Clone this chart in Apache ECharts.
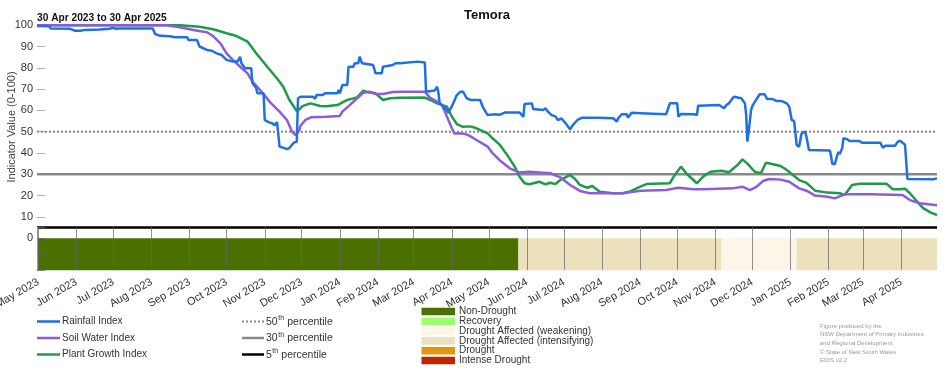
<!DOCTYPE html>
<html><head><meta charset="utf-8">
<script src="https://cdn.jsdelivr.net/npm/echarts@6/dist/echarts.min.js"></script>
<style>html,body{margin:0;padding:0;background:#fff}#c{width:952px;height:370px}</style>
</head><body><div id="c"></div>
<script>
const START = '2023-04-30', END = '2025-04-30';
const chartTitle = 'Temora';
const periodText = '30 Apr 2023 to 30 Apr 2025';
const yAxisTitle = 'Indicator Value (0-100)';
const monthNames = ['Jan','Feb','Mar','Apr','May','Jun','Jul','Aug','Sep','Oct','Nov','Dec'];

const rainfall = [
['2023-04-30',99.6],['2023-05-10',99.5],['2023-05-11',98.5],['2023-05-27',98.3],['2023-05-31',97.4],['2023-06-04',97.4],
['2023-06-08',97.8],['2023-06-20',98.0],['2023-06-28',98.3],['2023-07-01',98.8],['2023-07-03',98.3],['2023-07-06',98.5],
['2023-08-02',98.5],['2023-08-04',95.8],['2023-08-08',95.0],['2023-08-16',94.8],['2023-08-20',94.3],['2023-08-30',94.3],
['2023-08-31',93.0],['2023-09-07',93.0],['2023-09-09',90.0],['2023-09-15',88.4],['2023-09-19',88.0],['2023-09-23',86.8],
['2023-09-27',86.0],['2023-10-01',83.7],['2023-10-06',82.9],['2023-10-10',83.0],['2023-10-12',85.2],['2023-10-13',82.1],
['2023-10-16',79.8],['2023-10-21',79.8],['2023-10-22',72.7],['2023-10-25',70.5],['2023-10-26',68.0],['2023-10-31',68.0],
['2023-11-01',55.5],['2023-11-04',54.5],['2023-11-07',54.0],['2023-11-09',53.0],['2023-11-11',54.5],['2023-11-12',54.0],
['2023-11-13',43.0],['2023-11-16',42.5],['2023-11-19',41.8],['2023-11-21',42.3],['2023-11-23',43.8],['2023-11-25',45.0],
['2023-11-27',45.3],['2023-11-28',65.7],['2023-11-30',66.4],['2023-12-10',66.4],['2023-12-12',65.5],['2023-12-13',67.2],
['2023-12-18',67.2],['2023-12-20',68.0],['2023-12-30',68.0],['2023-12-31',69.6],['2024-01-01',68.0],['2024-01-03',71.9],
['2024-01-07',71.9],['2024-01-08',80.5],['2024-01-12',80.5],['2024-01-13',82.1],['2024-01-16',82.1],['2024-01-17',85.2],
['2024-01-19',82.1],['2024-01-28',81.3],['2024-01-30',77.4],['2024-02-04',77.4],['2024-02-05',80.5],['2024-02-13',81.3],
['2024-02-15',82.1],['2024-02-19',82.1],['2024-02-20',82.9],['2024-03-04',82.9],['2024-03-10',82.5],['2024-03-11',68.8],
['2024-03-18',69.3],['2024-03-20',71.1],['2024-03-21',68.5],['2024-03-22',63.5],['2024-03-25',61.6],['2024-03-28',60.2],
['2024-03-29',58.8],['2024-04-01',62.0],['2024-04-05',67.2],['2024-04-08',68.8],['2024-04-10',68.8],['2024-04-13',65.7],
['2024-04-16',64.9],['2024-04-24',64.9],['2024-04-26',61.7],['2024-04-30',57.8],['2024-05-06',58.2],['2024-05-10',58.0],
['2024-05-14',59.0],['2024-05-26',59.0],['2024-05-29',57.0],['2024-05-30',63.0],['2024-06-05',63.3],['2024-06-06',60.7],
['2024-06-07',61.5],['2024-06-14',60.2],['2024-06-16',61.0],['2024-06-18',59.4],['2024-06-21',57.8],['2024-06-24',57.2],
['2024-06-26',55.5],['2024-06-29',56.2],['2024-07-02',54.2],['2024-07-04',52.7],['2024-07-06',51.1],['2024-07-08',53.0],
['2024-07-12',55.5],['2024-07-16',56.6],['2024-07-28',56.6],['2024-08-10',56.3],['2024-08-13',54.7],['2024-08-14',56.3],
['2024-08-17',58.2],['2024-08-21',58.2],['2024-08-22',56.6],['2024-08-25',58.9],['2024-09-06',58.6],['2024-09-22',58.2],
['2024-09-25',63.3],['2024-10-01',63.3],['2024-10-02',57.0],['2024-10-04',58.3],['2024-10-15',58.2],['2024-10-17',57.8],
['2024-10-18',62.2],['2024-11-04',62.5],['2024-11-05',63.3],['2024-11-08',61.0],['2024-11-10',62.5],['2024-11-12',63.3],
['2024-11-16',66.4],['2024-11-22',65.7],['2024-11-25',63.3],['2024-11-26',58.0],['2024-11-27',45.3],['2024-11-29',55.0],
['2024-11-30',60.2],['2024-12-01',62.0],['2024-12-04',64.9],['2024-12-07',67.6],['2024-12-11',67.6],['2024-12-13',65.4],
['2024-12-17',65.4],['2024-12-21',64.4],['2024-12-25',64.4],['2024-12-29',63.3],['2024-12-31',61.7],['2025-01-02',55.5],
['2025-01-04',55.0],['2025-01-06',43.8],['2025-01-08',43.0],['2025-01-10',49.2],['2025-01-13',50.0],['2025-01-14',47.5],
['2025-01-16',41.4],['2025-02-02',41.2],['2025-02-03',38.5],['2025-02-04',34.8],['2025-02-06',34.8],['2025-02-08',39.0],
['2025-02-09',40.5],['2025-02-10',39.5],['2025-02-12',42.2],['2025-02-13',46.9],['2025-02-16',46.5],['2025-02-18',45.6],
['2025-02-26',45.6],['2025-02-28',44.8],['2025-03-15',44.8],['2025-03-16',44.5],['2025-03-17',42.5],['2025-03-19',43.4],
['2025-03-27',43.4],['2025-03-29',45.2],['2025-03-31',45.8],['2025-04-02',44.8],['2025-04-04',44.0],['2025-04-06',27.8],
['2025-04-27',27.7],['2025-04-30',28.1]
];

const soilWater = [
['2023-04-30',100],['2023-08-13',100],['2023-08-24',99.0],['2023-09-04',97.7],['2023-09-15',96.7],['2023-09-20',94.9],
['2023-09-26',91.5],['2023-10-01',86.8],['2023-10-06',83.7],['2023-10-12',80.5],['2023-10-18',77.4],['2023-10-22',73.5],
['2023-10-28',69.6],['2023-11-01',67.0],['2023-11-05',64.0],['2023-11-13',59.4],['2023-11-19',55.5],['2023-11-23',50.2],
['2023-11-26',48.4],['2023-11-29',50.5],['2023-11-30',52.8],['2023-12-04',55.5],['2023-12-09',56.8],['2023-12-21',57.0],
['2024-01-01',57.4],['2024-01-03',59.4],['2024-01-09',62.5],['2024-01-15',65.7],['2024-01-20',68.3],['2024-01-25',68.8],
['2024-01-30',67.7],['2024-02-05',67.7],['2024-02-13',68.6],['2024-02-21',68.8],['2024-03-10',68.8],['2024-03-14',66.0],
['2024-03-20',64.1],['2024-03-24',62.5],['2024-03-28',57.0],['2024-04-01',51.6],['2024-04-03',49.2],['2024-04-09',49.2],
['2024-04-14',48.5],['2024-04-21',46.1],['2024-04-30',43.0],['2024-05-04',39.9],['2024-05-10',36.5],['2024-05-18',32.8],
['2024-05-26',30.8],['2024-06-03',31.2],['2024-06-11',30.9],['2024-06-20',30.5],['2024-06-28',28.6],['2024-07-06',25.0],
['2024-07-14',22.2],['2024-07-22',21.1],['2024-08-18',21.1],['2024-09-01',22.3],['2024-09-22',22.6],['2024-10-02',23.7],
['2024-10-14',23.0],['2024-10-22',23.0],['2024-11-15',23.4],['2024-11-23',24.2],['2024-11-29',22.6],['2024-12-04',24.0],
['2024-12-10',27.0],['2024-12-15',27.8],['2024-12-24',27.5],['2024-12-31',26.5],['2025-01-08',23.4],['2025-01-14',22.3],
['2025-01-21',20.0],['2025-01-31',19.5],['2025-02-06',18.7],['2025-02-14',20.6],['2025-03-07',20.6],['2025-04-02',20.3],
['2025-04-08',17.9],['2025-04-16',16.4],['2025-04-30',15.5]
];

const plantGrowth = [
['2023-04-30',100],['2023-08-24',100],['2023-09-09',99.3],['2023-09-20',98.1],['2023-10-01',96.2],['2023-10-09',94.9],
['2023-10-18',92.3],['2023-10-25',86.8],['2023-11-03',80.5],['2023-11-11',75.0],['2023-11-16',71.1],['2023-11-21',64.9],
['2023-11-27',59.7],['2023-11-30',61.0],['2023-12-02',62.1],['2023-12-08',63.3],['2023-12-16',62.1],['2023-12-21',62.0],
['2023-12-30',62.5],['2024-01-07',64.9],['2024-01-15',66.1],['2024-01-20',69.3],['2024-01-24',68.5],['2024-01-30',68.0],
['2024-02-05',64.9],['2024-02-11',65.7],['2024-02-19',65.9],['2024-03-10',66.0],['2024-03-14',65.0],['2024-03-20',63.3],
['2024-03-28',61.7],['2024-04-01',57.0],['2024-04-05',53.6],['2024-04-10',52.3],['2024-04-16',52.5],['2024-04-21',51.6],
['2024-04-30',49.2],['2024-05-04',46.9],['2024-05-10',43.8],['2024-05-16',39.0],['2024-05-22',33.6],['2024-05-26',28.9],
['2024-05-30',25.8],['2024-06-03',25.3],['2024-06-11',26.5],['2024-06-16',25.3],['2024-06-20',26.0],['2024-06-24',25.4],
['2024-06-28',27.3],['2024-07-06',29.7],['2024-07-10',27.8],['2024-07-14',25.0],['2024-07-20',23.7],['2024-07-24',24.5],
['2024-07-30',21.8],['2024-08-10',21.1],['2024-08-18',21.1],['2024-08-23',21.8],['2024-09-01',24.2],['2024-09-06',25.4],
['2024-09-25',25.8],['2024-09-29',29.7],['2024-10-04',33.6],['2024-10-09',30.0],['2024-10-17',25.8],['2024-10-22',28.9],
['2024-10-28',31.2],['2024-11-06',31.7],['2024-11-12',31.0],['2024-11-19',34.4],['2024-11-23',37.0],['2024-11-27',35.0],
['2024-12-03',31.2],['2024-12-08',30.5],['2024-12-12',35.4],['2024-12-17',34.8],['2024-12-24',33.9],['2024-12-29',32.0],
['2025-01-02',30.1],['2025-01-08',27.3],['2025-01-14',26.0],['2025-01-21',22.3],['2025-01-31',21.4],['2025-02-10',21.1],
['2025-02-14',20.3],['2025-02-20',25.0],['2025-02-26',25.6],['2025-03-20',25.6],['2025-03-25',23.0],['2025-03-31',23.0],
['2025-04-04',23.2],['2025-04-08',21.1],['2025-04-14',17.1],['2025-04-19',14.0],['2025-04-25',12.0],['2025-04-30',10.9]
];

const percentileValues = [50, 30, 5];
const percentileLabels = ['50', '30', '5'];
const percentileSuffix = ['th', 'th', 'th'];

const statusNames = ['Non-Drought','Recovery','Drought Affected (weakening)','Drought Affected (intensifying)','Drought','Intense Drought'];
const statusColors = ['#4a7000','#9dfb6e','#fdf5e8','#ede0bc','#e3960c','#bf2600'];
const statusPeriods = [
  ['2023-04-30','2024-05-25','Non-Drought'],
  ['2024-05-25','2024-11-06','Drought Affected (intensifying)'],
  ['2024-11-06','2025-01-06','Drought Affected (weakening)'],
  ['2025-01-06','2025-04-30','Drought Affected (intensifying)']
];

const indexNames = ['Rainfall Index','Soil Water Index','Plant Growth Index'];
const indexColors = ['#1f6fe5','#8b5cdc','#1f9b48'];
const credits = ['Figure produced by the','NSW Department of Primary Industries','and Regional Development','\u00a9 State of New South Wales','EDIS v2.2'];

const toTime = s => { const p = s.split('-'); return new Date(+p[0], +p[1]-1, +p[2]).getTime(); };
const FONT = 'Liberation Sans, Arial, sans-serif';

const chart = echarts.init(document.getElementById('c'), null, {renderer:'canvas'});

const graphic = [];
graphic.push({type:'text', x:487, y:15, style:{text:chartTitle, font:'bold 13px '+FONT, fill:'#111', align:'center', verticalAlign:'middle'}});
graphic.push({type:'text', x:37, y:18, style:{text:periodText, font:'bold 10.2px '+FONT, fill:'#111', align:'left', verticalAlign:'middle'}});
graphic.push({type:'text', x:12, y:127, rotation:Math.PI/2, style:{text:yAxisTitle, font:'11px '+FONT, fill:'#444', align:'center', verticalAlign:'middle'}});

const rowY = [321.5, 338, 354.5];
indexNames.forEach((n,i)=>{
  graphic.push({type:'line', shape:{x1:37,y1:rowY[i],x2:60,y2:rowY[i]}, style:{stroke:indexColors[i], lineWidth:2.5}});
  graphic.push({type:'text', x:62, y:rowY[i], style:{text:n, font:'10px '+FONT, fill:'#333', verticalAlign:'middle'}});
});
const pStyles = [{stroke:'#888', lineWidth:2, lineDash:[2,2]},{stroke:'#888', lineWidth:2.5},{stroke:'#000', lineWidth:2.5}];
percentileLabels.forEach((l,i)=>{
  graphic.push({type:'line', shape:{x1:242,y1:rowY[i],x2:264,y2:rowY[i]}, style:pStyles[i]});
  graphic.push({type:'text', x:266, y:rowY[i]+0.5, style:{text:l, font:'10.5px '+FONT, fill:'#333', verticalAlign:'middle'}});
  const w = l.length*5.85;
  graphic.push({type:'text', x:266+w+0.5, y:rowY[i]-3, style:{text:percentileSuffix[i], font:'7px '+FONT, fill:'#333', verticalAlign:'middle'}});
  graphic.push({type:'text', x:266+w+9.5, y:rowY[i]+0.5, style:{text:'percentile', font:'10.5px '+FONT, fill:'#333', verticalAlign:'middle'}});
});
statusNames.forEach((n,i)=>{
  const y = 311.5 + i*9.8;
  graphic.push({type:'rect', shape:{x:421.5,y:y-3.8,width:33.5,height:7.6}, style:{fill:statusColors[i]}});
  graphic.push({type:'text', x:459, y:y, style:{text:n, font:'10px '+FONT, fill:'#333', verticalAlign:'middle'}});
});
credits.forEach((c,i)=>{
  graphic.push({type:'text', x:820, y:326 + i*8.7, style:{text:c, font:'6px '+FONT, fill:'#999', verticalAlign:'middle'}});
});

const lineSeries = [rainfall, soilWater, plantGrowth].map((d,i)=>({
  type:'line', name:indexNames[i], xAxisIndex:0, yAxisIndex:0, data:d, showSymbol:false, symbol:'none',
  lineStyle:{color:indexColors[i], width:2.5}, z:5+ (2-i), animation:false
}));
const pctSeries = percentileValues.map((v,i)=>({
  type:'line', xAxisIndex:0, yAxisIndex:0, data:[[START,v],[END,v]], showSymbol:false, symbol:'none', silent:true,
  lineStyle:{color:pStyles[i].stroke, width:pStyles[i].lineWidth, type: i===0 ? [2,2] : 'solid'}, z:2, animation:false
}));
const bandSeries = {
  type:'custom', xAxisIndex:1, yAxisIndex:1, animation:false, z:1,
  data: statusPeriods.map(p=>[toTime(p[0]), toTime(p[1]), statusNames.indexOf(p[2])]),
  dimensions:['start','end','status'],
  encode:{x:[0,1]},
  renderItem:(params, api)=>{
    const a = api.coord([api.value(0), 0]);
    const b = api.coord([api.value(1), -15]);
    return {type:'rect', shape:{x:a[0], y:a[1], width:b[0]-a[0], height:b[1]-a[1]}, style:{fill:statusColors[api.value(2)]}};
  }
};

const option = {
  animation:false,
  textStyle:{fontFamily:FONT},
  grid:[
    {left:37, right:15, top:25.2, height:213, containLabel:false, outerBoundsMode:'none'},
    {left:37, right:15, top:227.5, height:42.7, containLabel:false, outerBoundsMode:'none'}
  ],
  xAxis:[
    {type:'time', gridIndex:0, min:toTime(START), max:toTime(END), show:false},
    {type:'time', gridIndex:1, min:toTime(START), max:toTime(END), z:10,
     minInterval:28*864e5, maxInterval:31*864e5,
     axisLine:{show:false, onZero:false},
     axisTick:{show:true, inside:true, length:43, lineStyle:{color:'rgba(100,100,100,0.7)', width:1}},
     splitLine:{show:false},
     axisLabel:{rotate:30, fontSize:11, color:'#333', margin:11, fontFamily:FONT,
       formatter:v=>{const d=new Date(v); return monthNames[d.getMonth()]+' '+d.getFullYear();}}
    }
  ],
  yAxis:[
    {type:'value', gridIndex:0, min:0, max:100, interval:10,
     axisLine:{show:false}, splitLine:{show:false},
     axisTick:{show:true, inside:true, length:8, lineStyle:{color:'#b0b0b0'}},
     axisLabel:{fontSize:11, color:'#333', margin:4, fontFamily:FONT}},
    {type:'value', gridIndex:1, min:-15, max:5, interval:7.5, z:10,
     axisLine:{show:true, onZero:false, lineStyle:{color:'#999', width:1}}, splitLine:{show:false},
     axisTick:{show:true, inside:true, length:8, lineStyle:{color:'rgba(100,100,100,0.7)'}},
     axisLabel:{show:false}}
  ],
  graphic:graphic,
  series:[bandSeries, ...pctSeries, ...lineSeries]
};
chart.setOption(option);
</script></body></html>
